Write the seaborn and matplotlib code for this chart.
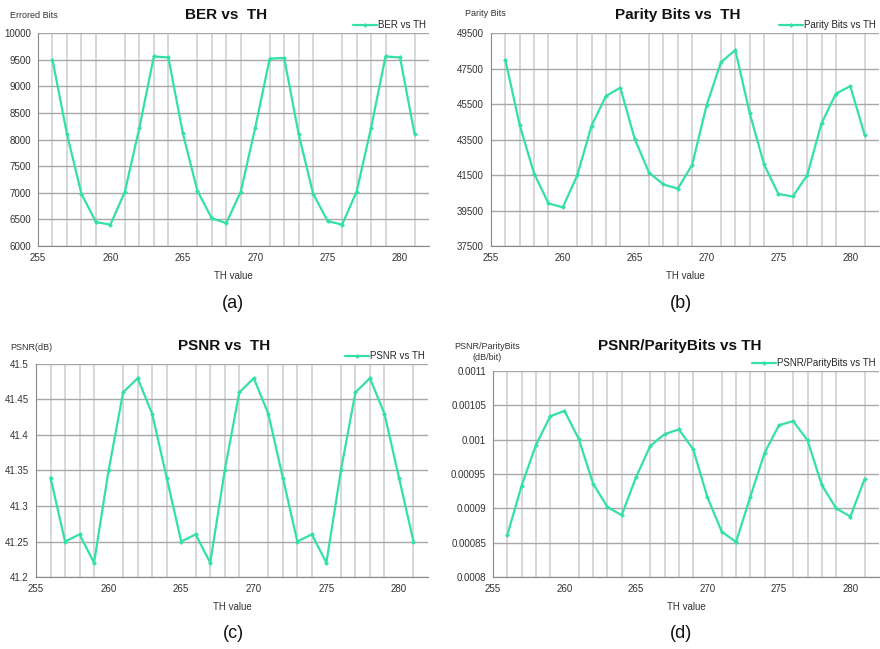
import numpy as np
import pandas as pd
import matplotlib
matplotlib.use("Agg")
import matplotlib.pyplot as plt
import seaborn as sns

# TH values shared by all four panels
th = list(range(256, 282))

ber = [9500, 8100, 6980, 6450, 6400, 7020, 8220, 9560, 9540, 8120, 7040, 6520, 6430,
       7020, 8220, 9520, 9530, 8100, 6980, 6470, 6400, 7020, 8220, 9560, 9540, 8110]

parity = [47980, 44300, 41580, 39900, 39680, 41480, 44280, 45950, 46420, 43530, 41630,
          40970, 40730, 42080, 45420, 47850, 48540, 44990, 42100, 40430, 40290, 41480,
          44410, 46080, 46500, 43770]

psnr = [41.34, 41.25, 41.26, 41.22, 41.35, 41.46, 41.48, 41.43, 41.34, 41.25, 41.26,
        41.22, 41.35, 41.46, 41.48, 41.43, 41.34, 41.25, 41.26, 41.22, 41.35, 41.46,
        41.48, 41.43, 41.34, 41.25]

psnr_per_bit = [0.000861, 0.000933, 0.000992, 0.001034, 0.001042, 0.001001, 0.000936,
                0.000902, 0.000890, 0.000945, 0.000991, 0.001008, 0.001015, 0.000986,
                0.000916, 0.000866, 0.000851, 0.000917, 0.000981, 0.001021, 0.001027,
                0.000999, 0.000934, 0.000900, 0.000888, 0.000943]

panels = [
    # values, title, ylabel, legend, yticks, tick labels, caption
    (ber, "BER vs  TH", "Errored Bits", "BER vs TH",
     [6000, 6500, 7000, 7500, 8000, 8500, 9000, 9500, 10000],
     ["6000", "6500", "7000", "7500", "8000", "8500", "9000", "9500", "10000"], "(a)"),
    (parity, "Parity Bits vs  TH", "Parity Bits", "Parity Bits vs TH",
     [37500, 39500, 41500, 43500, 45500, 47500, 49500],
     ["37500", "39500", "41500", "43500", "45500", "47500", "49500"], "(b)"),
    (psnr, "PSNR vs  TH", "PSNR(dB)", "PSNR vs TH",
     [41.2, 41.25, 41.3, 41.35, 41.4, 41.45, 41.5],
     ["41.2", "41.25", "41.3", "41.35", "41.4", "41.45", "41.5"], "(c)"),
    (psnr_per_bit, "PSNR/ParityBits vs TH", "PSNR/ParityBits\n(dB/bit)", "PSNR/ParityBits vs TH",
     [0.0008, 0.00085, 0.0009, 0.00095, 0.001, 0.00105, 0.0011],
     ["0.0008", "0.00085", "0.0009", "0.00095", "0.001", "0.00105", "0.0011"], "(d)"),
]

# axes boxes in pixels: left, right, top, bottom
boxes = [(38, 429, 33, 246), (491, 879, 33, 246), (36, 428, 364, 577), (493, 879, 371, 577)]
# title / y-label / caption anchors in pixels
title_xy = [(226, 15), (678, 15), (224, 346), (680, 346)]
ylab_xy = [(10, 15), (465, 14), (10, 347), (487, 352)]
cap_x = [233, 681, 233, 681]

sns.set_style("white")
plt.rcParams["font.family"] = ["Liberation Sans", "DejaVu Sans"]

W, H = 880, 649
fig = plt.figure(figsize=(W / 100, H / 100), dpi=100)
line_color = "#33e0a6"

for i, ((vals, title, ylab, leg, yt, ytl, cap), (l, r, t, b)) in enumerate(zip(panels, boxes)):
    ax = fig.add_axes([l / W, 1 - b / H, (r - l) / W, (b - t) / H])
    df = pd.DataFrame({"TH": th, "val": vals})
    sns.lineplot(data=df, x="TH", y="val", ax=ax, color=line_color, linewidth=1.6,
                 marker="D", markersize=2.5, markeredgewidth=0, label=leg)
    ax.set_xlim(255, 282)
    ax.set_ylim(yt[0], yt[-1])
    ax.set_yticks(yt)
    ax.set_yticklabels(ytl)
    ax.set_xticks([255, 260, 265, 270, 275, 280])
    ax.set_xticks(np.arange(256, 282), minor=True)
    ax.tick_params(axis="both", which="major", labelsize=7, length=3, color="#888888",
                   labelcolor="#333333", pad=2)
    ax.tick_params(axis="x", which="minor", length=0)
    ax.grid(axis="y", which="major", color="#a8a8a8", linewidth=1.0)
    ax.grid(axis="x", which="minor", color="#d4d4d4", linewidth=1.3)
    ax.set_axisbelow(True)
    for side in ["top", "right"]:
        ax.spines[side].set_visible(False)
    for side in ["left", "bottom"]:
        ax.spines[side].set_color("#888888")
        ax.spines[side].set_linewidth(0.8)
    ax.set_xlabel("")
    ax.set_ylabel("")

    cx = (l + r) / 2
    tx, ty = title_xy[i]
    fig.text(tx / W, 1 - ty / H, title, ha="center", va="center", fontsize=11,
             fontweight="bold", color="#111111")
    fig.text(cx / W, 1 - (b + 30) / H, "TH value", ha="center", va="center", fontsize=7,
             color="#333333")
    yx, yy = ylab_xy[i]
    fig.text(yx / W, 1 - yy / H, ylab, ha="center" if "\n" in ylab else "left",
             va="center", fontsize=6.5, color="#333333", multialignment="center")
    fig.text(cap_x[i] / W, 1 - (b + 57) / H, cap, ha="center", va="center", fontsize=13,
             color="#111111")
    ax.legend(loc="lower right", bbox_to_anchor=(1.0, 1.0), frameon=False, fontsize=7,
              handlelength=2.5, handletextpad=0.1, borderaxespad=0.2, borderpad=0.1)

fig.savefig("out.png", dpi=100)
